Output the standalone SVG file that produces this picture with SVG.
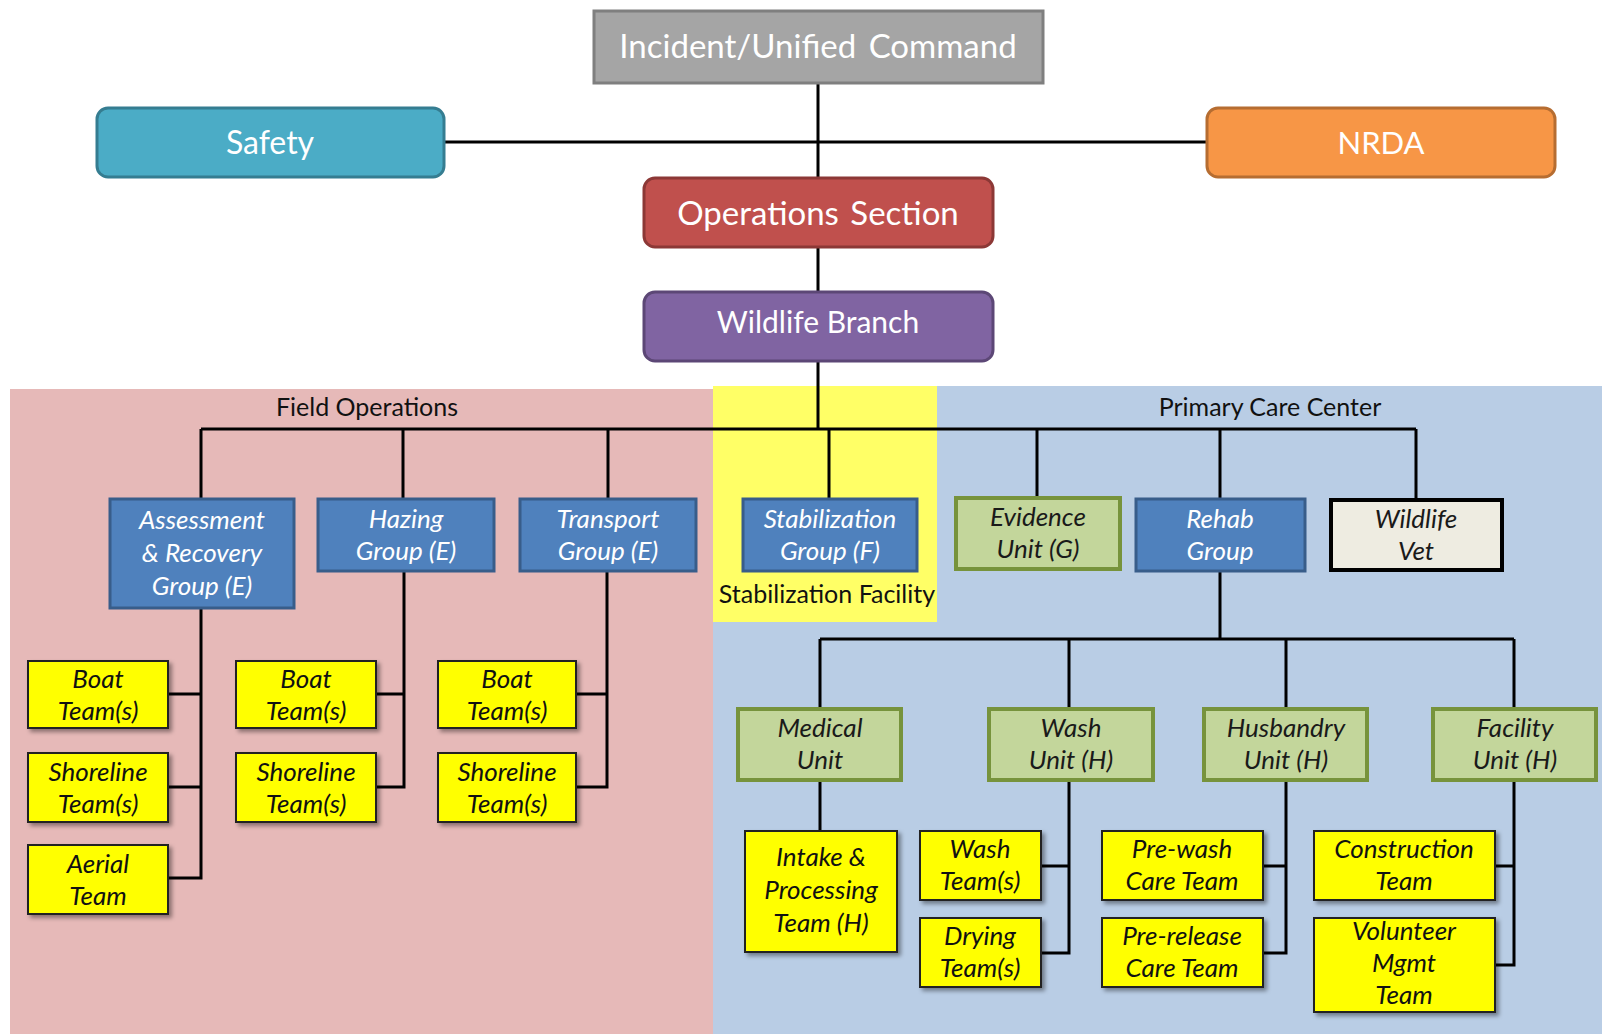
<svg xmlns="http://www.w3.org/2000/svg" width="1602" height="1034" viewBox="0 0 1602 1034">
<style>
.top{font-family:Lato,"Liberation Sans",sans-serif;fill:#fff;text-anchor:middle}
.grp{font-family:Lato,"Liberation Sans",sans-serif;font-style:italic;font-size:26px;fill:#fff;text-anchor:middle}
.unit{font-family:Lato,"Liberation Sans",sans-serif;font-style:italic;font-size:26px;fill:#1a1a1a;text-anchor:middle}
.team{font-family:Lato,"Liberation Sans",sans-serif;font-style:italic;font-size:26px;fill:#111;text-anchor:middle}
.lbl{font-family:Lato,"Liberation Sans",sans-serif;font-size:25px;fill:#111;text-anchor:middle}
.bluebox{fill:#4f81bd;stroke:#385d8a;stroke-width:3}
.greenbox{fill:#c3d69b;stroke:#77933c;stroke-width:4}
.yel{fill:#ffff00;stroke:#222;stroke-width:2;filter:url(#sh)}
.ln{stroke:#000;stroke-width:3;fill:none}
</style>
<defs>
<filter id="sh" x="-10%" y="-10%" width="130%" height="130%">
<feDropShadow dx="3" dy="3" stdDeviation="2" flood-color="#000" flood-opacity="0.4"/>
</filter>
</defs>
<rect width="1602" height="1034" fill="#fff"/>
<g id="regions">
<rect x="10" y="389" width="703" height="645" fill="#e6b9b8"/>
<rect x="713" y="386" width="889" height="648" fill="#b9cde5"/>
<rect x="713" y="386" width="224" height="236" fill="#ffff66"/>
<text class="lbl" x="367" y="416">Field Operations</text>
<text class="lbl" x="1270" y="416">Primary Care Center</text>
<text class="lbl" x="827" y="603">Stabilization Facility</text>
</g>
<g id="connectors">
<path class="ln" d="M818 83V178M444 142H1207M818 247V292M818 361V429M201 429H1416"/>
<path class="ln" d="M201 429V499M403 429V499M608 429V499M829 429V499M1037 429V499M1220 429V499M1416 429V499"/>
<path class="ln" d="M201 608V878H168M168 694H201M168 787H201"/>
<path class="ln" d="M404 571V787H376M376 694H404"/>
<path class="ln" d="M607 571V787H576M576 694H607"/>
<path class="ln" d="M1220 571V639M820 639H1514M820 639V709M1069 639V709M1286 639V709M1514 639V709"/>
<path class="ln" d="M820 780V831"/>
<path class="ln" d="M1069 780V953H1041M1041 866H1069"/>
<path class="ln" d="M1286 780V953H1263M1263 866H1286"/>
<path class="ln" d="M1514 780V965H1495M1495 866H1514"/>
</g>
<g id="incident">
<rect x="594" y="11" width="449" height="72" fill="#a5a5a5" stroke="#7f7f7f" stroke-width="3"/>
<text class="top" x="818" y="58" font-size="33" word-spacing="4">Incident/Unified Command</text>
</g>
<g id="safety">
<rect x="97" y="108" width="347" height="69" rx="11" fill="#4bacc6" stroke="#357d91" stroke-width="3"/>
<text class="top" x="270" y="154" font-size="32">Safety</text>
</g>
<g id="nrda">
<rect x="1207" y="108" width="348" height="69" rx="11" fill="#f79646" stroke="#b66d31" stroke-width="3"/>
<text class="top" x="1381" y="154" font-size="31">NRDA</text>
</g>
<g id="operations">
<rect x="644" y="178" width="349" height="69" rx="11" fill="#c0504d" stroke="#8c3836" stroke-width="3"/>
<text class="top" x="818" y="225" font-size="33" word-spacing="3">Operations Section</text>
</g>
<g id="wildlife-branch">
<rect x="644" y="292" width="349" height="69" rx="11" fill="#8064a2" stroke="#5c4776" stroke-width="3"/>
<text class="top" x="818" y="333" font-size="30">Wildlife Branch</text>
</g>
<g id="assessment">
<rect class="bluebox" x="110" y="499" width="184" height="109"/>
<text class="grp" x="202" y="529">Assessment<tspan x="202" dy="33">&amp; Recovery</tspan><tspan x="202" dy="33">Group (E)</tspan></text>
</g>
<g id="hazing">
<rect class="bluebox" x="318" y="499" width="176" height="72"/>
<text class="grp" x="406" y="528">Hazing<tspan x="406" dy="32">Group (E)</tspan></text>
</g>
<g id="transport">
<rect class="bluebox" x="520" y="499" width="176" height="72"/>
<text class="grp" x="608" y="528">Transport<tspan x="608" dy="32">Group (E)</tspan></text>
</g>
<g id="stabilization">
<rect class="bluebox" x="743" y="499" width="174" height="72"/>
<text class="grp" x="830" y="528">Stabilization<tspan x="830" dy="32">Group (F)</tspan></text>
</g>
<g id="evidence">
<rect class="greenbox" x="956" y="498" width="164" height="71"/>
<text class="unit" x="1038" y="526">Evidence<tspan x="1038" dy="32">Unit (G)</tspan></text>
</g>
<g id="rehab">
<rect class="bluebox" x="1136" y="499" width="169" height="72"/>
<text class="grp" x="1220" y="528">Rehab<tspan x="1220" dy="32">Group</tspan></text>
</g>
<g id="wildlife-vet">
<rect x="1331" y="500" width="171" height="70" fill="#eeece1" stroke="#000" stroke-width="4"/>
<text class="unit" x="1416" y="528">Wildlife<tspan x="1416" dy="32">Vet</tspan></text>
</g>
<g id="fo-boat1"><rect class="yel" x="28" y="661" width="140" height="67"/><text class="team" x="98" y="688">Boat<tspan x="98" dy="32">Team(s)</tspan></text></g>
<g id="fo-shore1"><rect class="yel" x="28" y="753" width="140" height="69"/><text class="team" x="98" y="781">Shoreline<tspan x="98" dy="32">Team(s)</tspan></text></g>
<g id="fo-aerial"><rect class="yel" x="28" y="845" width="140" height="69"/><text class="team" x="98" y="873">Aerial<tspan x="98" dy="32">Team</tspan></text></g>
<g id="fo-boat2"><rect class="yel" x="236" y="661" width="140" height="67"/><text class="team" x="306" y="688">Boat<tspan x="306" dy="32">Team(s)</tspan></text></g>
<g id="fo-shore2"><rect class="yel" x="236" y="753" width="140" height="69"/><text class="team" x="306" y="781">Shoreline<tspan x="306" dy="32">Team(s)</tspan></text></g>
<g id="fo-boat3"><rect class="yel" x="438" y="661" width="138" height="67"/><text class="team" x="507" y="688">Boat<tspan x="507" dy="32">Team(s)</tspan></text></g>
<g id="fo-shore3"><rect class="yel" x="438" y="753" width="138" height="69"/><text class="team" x="507" y="781">Shoreline<tspan x="507" dy="32">Team(s)</tspan></text></g>
<g id="medical"><rect class="greenbox" x="738" y="709" width="163" height="71"/><text class="unit" x="820" y="737">Medical<tspan x="820" dy="32">Unit</tspan></text></g>
<g id="wash-unit"><rect class="greenbox" x="989" y="709" width="164" height="71"/><text class="unit" x="1071" y="737">Wash<tspan x="1071" dy="32">Unit (H)</tspan></text></g>
<g id="husbandry"><rect class="greenbox" x="1204" y="709" width="163" height="71"/><text class="unit" x="1286" y="737">Husbandry<tspan x="1286" dy="32">Unit (H)</tspan></text></g>
<g id="facility"><rect class="greenbox" x="1433" y="709" width="163" height="71"/><text class="unit" x="1515" y="737">Facility<tspan x="1515" dy="32">Unit (H)</tspan></text></g>
<g id="intake"><rect class="yel" x="745" y="831" width="152" height="121"/><text class="team" x="821" y="866">Intake &amp;<tspan x="821" dy="33">Processing</tspan><tspan x="821" dy="33">Team (H)</tspan></text></g>
<g id="wash-team"><rect class="yel" x="920" y="831" width="121" height="69"/><text class="team" x="980" y="858">Wash<tspan x="980" dy="32">Team(s)</tspan></text></g>
<g id="drying"><rect class="yel" x="920" y="918" width="121" height="69"/><text class="team" x="980" y="945">Drying<tspan x="980" dy="32">Team(s)</tspan></text></g>
<g id="prewash"><rect class="yel" x="1102" y="831" width="161" height="69"/><text class="team" x="1182" y="858">Pre-wash<tspan x="1182" dy="32">Care Team</tspan></text></g>
<g id="prerelease"><rect class="yel" x="1102" y="918" width="161" height="69"/><text class="team" x="1182" y="945">Pre-release<tspan x="1182" dy="32">Care Team</tspan></text></g>
<g id="construction"><rect class="yel" x="1314" y="831" width="181" height="69"/><text class="team" x="1404" y="858">Construction<tspan x="1404" dy="32">Team</tspan></text></g>
<g id="volunteer"><rect class="yel" x="1314" y="918" width="181" height="94"/><text class="team" x="1404" y="940">Volunteer<tspan x="1404" dy="32">Mgmt</tspan><tspan x="1404" dy="32">Team</tspan></text></g>
</svg>
